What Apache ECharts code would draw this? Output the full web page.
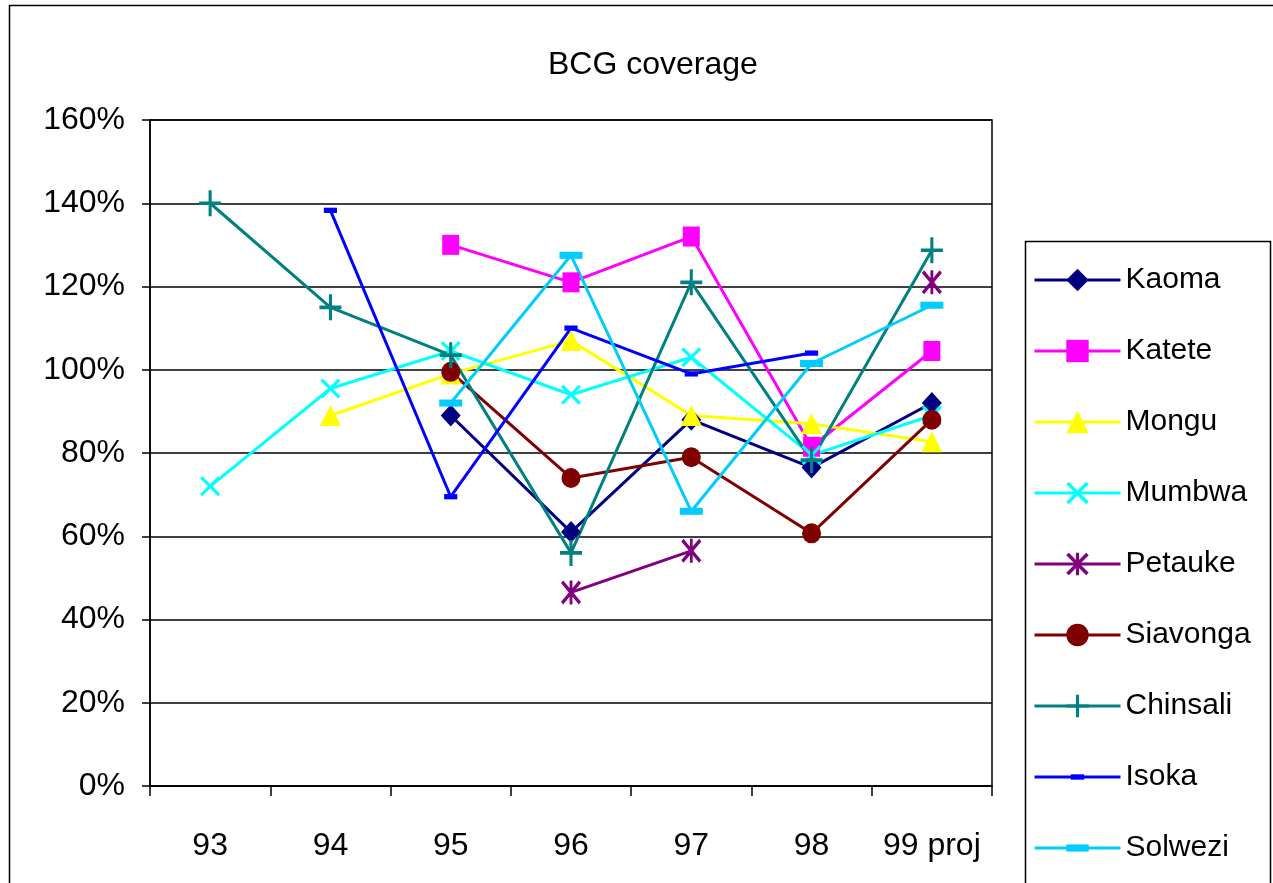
<!DOCTYPE html>
<html>
<head>
<meta charset="utf-8">
<script src="https://cdn.jsdelivr.net/npm/echarts@6/dist/echarts.min.js"></script>
<style>
html,body{margin:0;padding:0;background:#fff;}
#chart{width:1273px;height:883px;}
</style>
</head>
<body>
<div id="chart"></div>
<script>
const categories = ['93', '94', '95', '96', '97', '98', '99 proj'];
const yTicks = [0, 20, 40, 60, 80, 100, 120, 140, 160];

const kaoma    = [null, null, 89, 61, 88, 76.5, 92];
const katete   = [null, null, 130, 121, 132, 81.5, 104.5];
const mongu    = [null, 89, 99, 107, 89, 87, 82.7];
const mumbwa   = [72, 95.5, 104.5, 94, 103, 79.5, 89];
const petauke  = [null, null, null, 46.5, 56.5, null, 121];
const siavonga = [null, null, 99.5, 74, 79, 60.7, 88];
const chinsali = [140, 115, 103.5, 56, 121, 78.3, 128.7];
const isoka    = [null, 138.3, 69.5, 110, 99, 104, null];
const solwezi  = [null, null, 92, 127.5, 66, 101.5, 115.5];

const names = ['Kaoma', 'Katete', 'Mongu', 'Mumbwa', 'Petauke', 'Siavonga', 'Chinsali', 'Isoka', 'Solwezi'];
const seriesValues = [kaoma, katete, mongu, mumbwa, petauke, siavonga, chinsali, isoka, solwezi];
const colors = ['#000080', '#FF00FF', '#FFFF00', '#00FFFF', '#800080', '#800000', '#008080', '#0000FF', '#00CCFF'];

const X_PATH = 'path://M0,11 L11,0 L50,39 L89,0 L100,11 L61,50 L100,89 L89,100 L50,61 L11,100 L0,89 L39,50 Z';
const STAR_PATH = X_PATH.replace(' Z', ' Z M43,0 L57,0 L57,100 L43,100 Z');
const PLUS_PATH = 'path://M43,0 L57,0 L57,43 L100,43 L100,57 L57,57 L57,100 L43,100 L43,57 L0,57 L0,43 L43,43 Z';
const SHORT_DASH = 'path://M0,0 L0,0 M100,100 L100,100 M20,38 L80,38 L80,62 L20,62 Z';
const LONG_DASH = 'path://M0,0 L0,0 M100,100 L100,100 M0,34 L100,34 L100,66 L0,66 Z';

const symbols = ['diamond', 'rect', 'triangle', X_PATH, STAR_PATH, 'circle', PLUS_PATH, SHORT_DASH, LONG_DASH];
const symbolSizes = [[20, 22], [17, 20], [21, 21], [20, 20], [20, 24], [19, 20], [22, 26], [22, 22], [23, 22]];

const font = '"Liberation Sans", Arial, sans-serif';

const chart = echarts.init(document.getElementById('chart'), null, {renderer: 'canvas'});

const series = names.map((n, i) => ({
  name: n,
  type: 'line',
  data: seriesValues[i],
  symbol: symbols[i],
  symbolSize: symbolSizes[i],
  showSymbol: true,
  showAllSymbol: true,
  connectNulls: false,
  lineStyle: {color: colors[i], width: 3},
  itemStyle: {color: colors[i]},
  emphasis: {disabled: true}
}));

chart.setOption({
  animation: false,
  backgroundColor: '#fff',
  title: {
    text: 'BCG coverage',
    left: 543,
    top: 44,
    textStyle: {fontFamily: font, fontSize: 32, fontWeight: 'normal', color: '#000'}
  },
  graphic: [
    {type: 'rect', shape: {x: 9.5, y: 5.5, width: 1280, height: 900}, style: {fill: 'none', stroke: '#000', lineWidth: 1.5}, z: -10, silent: true},
    {type: 'rect', shape: {x: 1025.5, y: 241.5, width: 245, height: 700}, style: {fill: '#fff', stroke: '#000', lineWidth: 1.5}, z: -5, silent: true}
  ],
  legend: {
    orient: 'vertical',
    left: 1033,
    top: 265,
    padding: 0,
    itemWidth: 86,
    itemHeight: 28,
    itemGap: 41,
    selectedMode: false,
    lineStyle: {width: 3},
    textStyle: {fontFamily: font, fontSize: 30, color: '#000', lineHeight: 30},
    data: names
  },
  grid: {left: 150, right: 281, top: 120, bottom: 97, show: true, borderColor: '#000', borderWidth: 1.5},
  xAxis: {
    type: 'category',
    data: categories,
    boundaryGap: true,
    axisLine: {lineStyle: {color: '#000', width: 1.5}},
    axisTick: {show: true, interval: 0, length: 10, inside: false, lineStyle: {color: '#000', width: 1.5}},
    axisLabel: {interval: 0, fontFamily: font, fontSize: 32, color: '#000', margin: 44}
  },
  yAxis: {
    type: 'value',
    min: yTicks[0],
    max: yTicks[yTicks.length - 1],
    interval: 20,
    axisLine: {show: true, lineStyle: {color: '#000', width: 1.5}},
    axisTick: {show: true, length: 8, lineStyle: {color: '#000', width: 1.5}},
    splitLine: {show: true, lineStyle: {color: '#000', width: 1.5}},
    axisLabel: {fontFamily: font, fontSize: 32, color: '#000', margin: 25, formatter: '{value}%'}
  },
  series: series
});
</script>
</body>
</html>
